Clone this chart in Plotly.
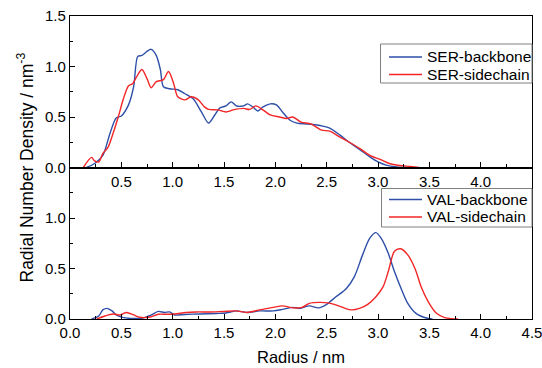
import plotly.graph_objects as go

# ---- data ----
ser_bb_x = [0.16, 0.24, 0.32, 0.39, 0.45, 0.50, 0.57, 0.62, 0.66, 0.70, 0.75, 0.79, 0.84, 0.88, 0.91, 0.97,
            1.05, 1.12, 1.20, 1.28, 1.35, 1.41, 1.46, 1.52, 1.57, 1.62, 1.69, 1.73, 1.78, 1.83, 1.88, 1.95,
            2.01, 2.07, 2.14, 2.21, 2.32, 2.46, 2.53, 2.63, 2.72, 2.82, 2.92, 3.00, 3.08, 3.18, 3.28]
ser_bb_y = [0.00, 0.04, 0.12, 0.34, 0.49, 0.51, 0.62, 0.80, 1.10, 1.11, 1.15, 1.17, 1.11, 0.97, 0.80, 0.78,
            0.77, 0.73, 0.68, 0.55, 0.44, 0.52, 0.59, 0.61, 0.65, 0.61, 0.61, 0.63, 0.60, 0.56, 0.60, 0.63,
            0.62, 0.55, 0.47, 0.44, 0.43, 0.41, 0.39, 0.32, 0.25, 0.18, 0.105, 0.055, 0.023, 0.006, 0.0]

ser_sc_x = [0.13, 0.21, 0.24, 0.28, 0.32, 0.37, 0.42, 0.47, 0.52, 0.57, 0.61, 0.65, 0.70, 0.75, 0.79, 0.84,
            0.91, 0.96, 1.01, 1.05, 1.12, 1.18, 1.25, 1.31, 1.35, 1.44, 1.52, 1.59, 1.69, 1.75, 1.81, 1.88,
            1.95, 2.04, 2.11, 2.17, 2.25, 2.35, 2.45, 2.53, 2.63, 2.72, 2.82, 2.92, 3.02, 3.11, 3.21, 3.31, 3.40]
ser_sc_y = [0.00, 0.10, 0.065, 0.055, 0.14, 0.20, 0.34, 0.50, 0.68, 0.81, 0.83, 0.90, 0.97, 0.88, 0.79, 0.85,
            0.87, 0.95, 0.83, 0.70, 0.67, 0.70, 0.67, 0.60, 0.575, 0.57, 0.55, 0.57, 0.585, 0.575, 0.61, 0.57,
            0.52, 0.50, 0.485, 0.50, 0.45, 0.43, 0.37, 0.36, 0.30, 0.25, 0.19, 0.12, 0.08, 0.04, 0.02, 0.01, 0.0]

val_bb_x = [0.21, 0.28, 0.32, 0.36, 0.41, 0.45, 0.52, 0.62, 0.71, 0.79, 0.86, 0.92, 0.97, 1.02, 1.12, 1.26,
            1.43, 1.52, 1.62, 1.69, 1.73, 1.85, 1.98, 2.07, 2.17, 2.24, 2.33, 2.42, 2.50, 2.59, 2.69, 2.77,
            2.85, 2.92, 2.98, 3.03, 3.10, 3.16, 3.23, 3.29, 3.37, 3.47, 3.53]
val_bb_y = [0.00, 0.03, 0.09, 0.105, 0.08, 0.04, 0.013, 0.005, 0.01, 0.04, 0.075, 0.065, 0.07, 0.04, 0.045, 0.05,
            0.055, 0.06, 0.08, 0.07, 0.065, 0.08, 0.08, 0.095, 0.115, 0.105, 0.13, 0.11, 0.145, 0.22, 0.30, 0.42,
            0.635, 0.80, 0.855, 0.80, 0.65, 0.47, 0.29, 0.155, 0.056, 0.01, 0.0]

val_sc_x = [0.26, 0.34, 0.42, 0.49, 0.55, 0.62, 0.68, 0.78, 0.86, 0.94, 1.02, 1.13, 1.23, 1.36, 1.49, 1.62,
            1.72, 1.85, 1.98, 2.07, 2.17, 2.26, 2.33, 2.43, 2.51, 2.59, 2.68, 2.74, 2.82, 2.90, 2.98, 3.05,
            3.10, 3.16, 3.22, 3.29, 3.36, 3.42, 3.49, 3.57, 3.65, 3.72, 3.78]
val_sc_y = [0.00, 0.03, 0.05, 0.04, 0.065, 0.04, 0.017, 0.02, 0.047, 0.047, 0.05, 0.065, 0.07, 0.07, 0.075, 0.08,
            0.065, 0.09, 0.115, 0.13, 0.11, 0.115, 0.155, 0.165, 0.16, 0.14, 0.105, 0.09, 0.105, 0.145, 0.22, 0.32,
            0.47, 0.67, 0.695, 0.635, 0.50, 0.32, 0.17, 0.056, 0.013, 0.003, 0.0]

x_ticks_top = [0.5, 1.0, 1.5, 2.0, 2.5, 3.0, 3.5, 4.0]
x_ticks_bot = [0.0, 0.5, 1.0, 1.5, 2.0, 2.5, 3.0, 3.5, 4.0, 4.5]
y_ticks_top = [0.0, 0.5, 1.0, 1.5]
y_ticks_bot = [0.0, 0.5, 1.0]

top_names = ["SER-backbone", "SER-sidechain"]
bot_names = ["VAL-backbone", "VAL-sidechain"]

BLUE = "#2D4FA8"
RED = "#F22626"
FONT = "Liberation Sans, Arial, sans-serif"

# pixel -> paper helpers (plot area: x 70..532, y 16..319)
W, H, L, T = 462.0, 303.0, 70.0, 16.0
def px(x):
    return (x - L) / W
def py(y):
    return (T + H - y) / H

fig = go.Figure()
line_kw = dict(width=1.4, shape="spline", smoothing=0.8)
fig.add_trace(go.Scatter(x=ser_bb_x, y=ser_bb_y, name=top_names[0], mode="lines",
                         line=dict(color=BLUE, **line_kw), xaxis="x", yaxis="y", showlegend=False))
fig.add_trace(go.Scatter(x=ser_sc_x, y=ser_sc_y, name=top_names[1], mode="lines",
                         line=dict(color=RED, **line_kw), xaxis="x", yaxis="y", showlegend=False))
fig.add_trace(go.Scatter(x=val_bb_x, y=val_bb_y, name=bot_names[0], mode="lines",
                         line=dict(color=BLUE, **line_kw), xaxis="x2", yaxis="y2", showlegend=False))
fig.add_trace(go.Scatter(x=val_sc_x, y=val_sc_y, name=bot_names[1], mode="lines",
                         line=dict(color=RED, **line_kw), xaxis="x2", yaxis="y2", showlegend=False))

axis_common = dict(showline=True, linecolor="black", linewidth=1.2, mirror=True,
                   ticks="inside", ticklen=5, tickwidth=1, tickcolor="black",
                   showgrid=False, zeroline=False, automargin=False, ticklabeloverflow="allow",
                   tickfont=dict(family=FONT, size=15, color="black"),
                   minor=dict(ticks="inside", ticklen=3, tickwidth=1, tickcolor="black", dtick=0.25))

shapes = []
annotations = [
    dict(text="Radial Number Density / nm<sup>-3</sup>", textangle=-90,
         xref="paper", yref="paper", x=px(25), y=0.5, xanchor="center", yanchor="middle",
         showarrow=False, font=dict(family=FONT, size=17.5, color="black")),
    dict(text="Radius / nm", xref="paper", yref="paper", x=0.5, y=py(357),
         xanchor="center", yanchor="middle", showarrow=False,
         font=dict(family=FONT, size=16.5, color="black")),
]

# custom legends (box, sample lines, labels)
legend_specs = [
    (top_names, (380.5, 532, 44, 83), (57, 74.5)),
    (bot_names, (381.5, 532, 188.5, 227), (199.5, 217)),
]
for names, (x0, x1, y0, y1), rows in legend_specs:
    shapes.append(dict(type="rect", xref="paper", yref="paper",
                       x0=px(x0), x1=px(x1), y0=py(y0), y1=py(y1),
                       line=dict(color="#808080", width=1), fillcolor="white", layer="above"))
    for name, color, yy in zip(names, [BLUE, RED], rows):
        shapes.append(dict(type="line", xref="paper", yref="paper",
                           x0=px(389), x1=px(422), y0=py(yy), y1=py(yy),
                           line=dict(color=color, width=1.4), layer="above"))
        annotations.append(dict(text=name, xref="paper", yref="paper", x=px(425), y=py(yy),
                                xanchor="left", yanchor="middle", showarrow=False,
                                font=dict(family=FONT, size=15.5, color="black")))

fig.update_layout(
    width=542, height=368,
    margin=dict(l=70, r=10, t=16, b=49, autoexpand=False),
    paper_bgcolor="white", plot_bgcolor="white",
    showlegend=False,
    xaxis=dict(domain=[0, 1], anchor="y", range=[0, 4.5], tickmode="array",
               tickvals=x_ticks_top, ticktext=[f"{v:.1f}" for v in x_ticks_top], **axis_common),
    yaxis=dict(domain=[0.5, 1], anchor="x", range=[0, 1.5], tickmode="array",
               tickvals=y_ticks_top, ticktext=[f"{v:.1f}" for v in y_ticks_top], **axis_common),
    xaxis2=dict(domain=[0, 1], anchor="y2", range=[0, 4.5], tickmode="array",
                tickvals=x_ticks_bot, ticktext=[f"{v:.1f}" for v in x_ticks_bot], **axis_common),
    yaxis2=dict(domain=[0, 0.5], anchor="x2", range=[0, 1.5], tickmode="array",
                tickvals=y_ticks_bot, ticktext=[f"{v:.1f}" for v in y_ticks_bot], **axis_common),
    shapes=shapes,
    annotations=annotations,
)

fig.write_html("out.html")
